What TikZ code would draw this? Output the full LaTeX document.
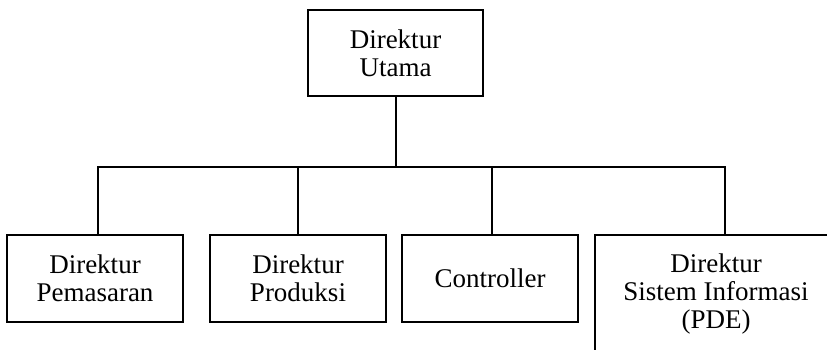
\documentclass[tikz,border=0pt]{standalone}
\usepackage{fontspec}
\setmainfont{Liberation Serif}
\begin{document}
\begin{tikzpicture}[x=1pt,y=-1pt,
  box/.style={draw=black,line width=2pt,minimum width=176pt,minimum height=87pt,
    align=center,inner sep=0pt,font=\fontsize{27}{28}\selectfont},
  link/.style={draw=black,line width=2pt}]
\useasboundingbox (0,0) rectangle (827,350);
\clip (0,0) rectangle (827,350);
\node[box,minimum width=175pt,minimum height=86pt] (top) at (395.5,53) {Direktur\\Utama};
\node[box] (b1) at (95,278.5) {Direktur\\Pemasaran};
\node[box] (b2) at (298,278.5) {Direktur\\Produksi};
\node[box] (b3) at (490,278.5) {Controller};
\node[box,minimum width=242pt,minimum height=118pt] (b4) at (716,294) {Direktur\\Sistem Informasi\\(PDE)};
\coordinate (busL) at (98,167);
\coordinate (busR) at (725,167);
\draw[link] (top.south) -- (top.south |- busL);
\draw[link] ([xshift=3pt]b1.north) -- ([xshift=3pt]b1.north |- busL) -- (busR) -- (busR |- b4.north);
\draw[link] (b2.north) -- (b2.north |- busL);
\draw[link] ([xshift=2pt]b3.north) -- ([xshift=2pt]b3.north |- busL);
\end{tikzpicture}
\end{document}
